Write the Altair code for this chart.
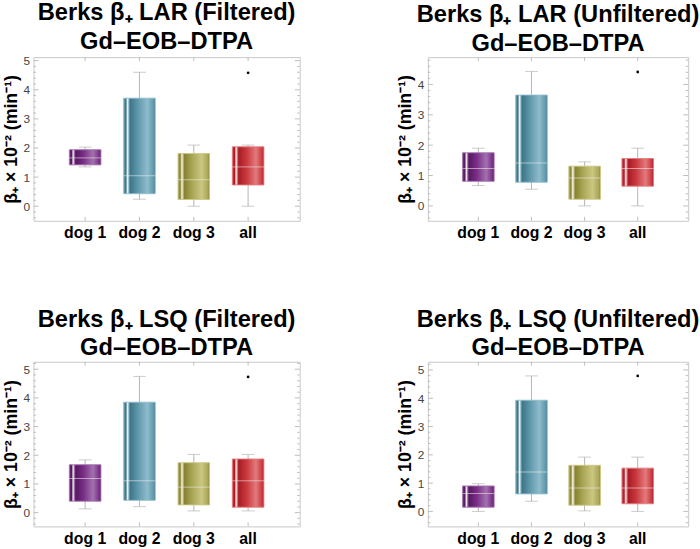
import altair as alt
import pandas as pd

cats = ["dog 1", "dog 2", "dog 3", "all"]

# Panel 1: LAR (Filtered)
p1_lo = [1.35, 0.24, 0.00, 0.00]
p1_q1 = [1.42, 0.43, 0.23, 0.73]
p1_med = [1.66, 1.05, 0.91, 1.35]
p1_q3 = [1.94, 3.71, 1.81, 2.04]
p1_hi = [2.03, 4.60, 2.10, 2.10]
p1_out = [4.58]

# Panel 2: LAR (Unfiltered)
p2_lo = [0.67, 0.55, 0.00, 0.00]
p2_q1 = [0.81, 0.78, 0.22, 0.65]
p2_med = [1.23, 1.41, 0.92, 1.23]
p2_q3 = [1.75, 3.65, 1.31, 1.56]
p2_hi = [1.90, 4.43, 1.45, 1.90]
p2_out = [4.41]

# Panel 3: LSQ (Filtered)
p3_lo = [0.13, 0.21, 0.06, 0.06]
p3_q1 = [0.40, 0.43, 0.27, 0.19]
p3_med = [1.19, 1.11, 0.89, 1.11]
p3_q3 = [1.67, 3.85, 1.74, 1.87]
p3_hi = [1.84, 4.75, 2.03, 2.03]
p3_out = [4.73]

# Panel 4: LSQ (Unfiltered)
p4_lo = [0.00, 0.36, 0.02, 0.00]
p4_q1 = [0.15, 0.62, 0.22, 0.27]
p4_med = [0.63, 1.39, 0.83, 0.83]
p4_q3 = [0.90, 3.93, 1.63, 1.53]
p4_hi = [0.98, 4.79, 1.92, 1.92]
p4_out = [4.79]

titles = [
    ["Berks β₊ LAR (Filtered)", "Gd–EOB–DTPA"],
    ["Berks β₊ LAR (Unfiltered)", "Gd–EOB–DTPA"],
    ["Berks β₊ LSQ (Filtered)", "Gd–EOB–DTPA"],
    ["Berks β₊ LSQ (Unfiltered)", "Gd–EOB–DTPA"],
]
y_title = "β₊ × 10⁻² (min⁻¹)"
ticks_a = [0, 1, 2, 3, 4, 5]
ticks_b = [0, 1, 2, 3, 4]

palette = [
    ("#55195f", "#7a2e87", "#a272ae"),
    ("#3b7587", "#5f98ab", "#8fbccb"),
    ("#858230", "#a9a655", "#cbc783"),
    ("#a91c25", "#c9383e", "#e27a7c"),
]


def grad(dark, mid, light):
    return alt.LinearGradient(
        gradient="linear", x1=0, x2=1, y1=0, y2=0,
        stops=[
            alt.GradientStop(offset=0.0, color=mid),
            alt.GradientStop(offset=0.07, color=dark),
            alt.GradientStop(offset=0.12, color="#f4eeee"),
            alt.GradientStop(offset=0.16, color=light),
            alt.GradientStop(offset=0.2, color=dark),
            alt.GradientStop(offset=0.45, color=mid),
            alt.GradientStop(offset=0.75, color=light),
            alt.GradientStop(offset=0.95, color=mid),
            alt.GradientStop(offset=1.0, color=dark),
        ],
    )


FONT = "Liberation Sans"
TICKC = "#bdbdbd"


def panel(title, lo, q1, med, q3, hi, out, ymin, ymax, ticks, W, H):
    df = pd.DataFrame({"cat": cats, "lo": lo, "q1": q1, "med": med, "q3": q3, "hi": hi})
    odf = pd.DataFrame({"cat": ["all"] * len(out), "v": out})
    minor = [k / 5 for k in range(int(ymin * 5) - 1, int(ymax * 5) + 2) if ymin <= k / 5 <= ymax and k % 5 != 0]
    tdf = pd.DataFrame({"t": ticks})
    mdf = pd.DataFrame({"t": minor})

    xscale = alt.Scale(domain=cats, paddingInner=0.4, paddingOuter=0.65)
    xaxis = alt.Axis(title=None, labelAngle=0, labelFontSize=16, labelFont=FONT,
                     labelFontWeight="bold", labelColor="black", ticks=False,
                     domain=False, labelPadding=4, grid=False)
    yscale = alt.Scale(domain=[ymin, ymax], nice=False, zero=False)
    yaxis = alt.Axis(values=ticks, title=y_title, titleFont=FONT, titleFontSize=18,
                     titleFontWeight="bold", titleColor="black", titlePadding=3,
                     grid=False, ticks=False, domain=False, labelFont=FONT,
                     labelFontSize=12, labelColor="#444444", labelPadding=4)

    def X():
        return alt.X("cat:N", sort=cats, scale=xscale, axis=xaxis)

    def Y(f):
        return alt.Y(f, scale=yscale, axis=yaxis)

    base = alt.Chart(df)
    layers = []
    layers.append(base.mark_rule(color="#b5b5b5", strokeWidth=1).encode(x=X(), y=Y("lo:Q"), y2="hi:Q"))
    layers.append(base.mark_tick(color="#b5b5b5", size=13, thickness=1).encode(x=X(), y=Y("lo:Q")))
    layers.append(base.mark_tick(color="#b5b5b5", size=13, thickness=1).encode(x=X(), y=Y("hi:Q")))
    for i, c in enumerate(cats):
        d, m, l = palette[i]
        layers.append(
            base.transform_filter(alt.datum.cat == c)
            .mark_bar(size=32, fill=grad(d, m, l), stroke=l, strokeWidth=1, strokeOpacity=0.9)
            .encode(x=X(), y=Y("q1:Q"), y2="q3:Q")
        )
    layers.append(base.mark_tick(size=32, thickness=1, color="#f4f0f0", opacity=0.55).encode(x=X(), y=Y("med:Q")))
    layers.append(alt.Chart(odf).mark_circle(size=8, color="black", opacity=1).encode(x=X(), y=Y("v:Q")))
    # frame ticks
    tk = alt.Chart(tdf).mark_rule(color=TICKC, strokeWidth=1)
    layers.append(tk.encode(y=Y("t:Q"), x=alt.value(0), x2=alt.value(5)))
    layers.append(tk.encode(y=Y("t:Q"), x=alt.value(W), x2=alt.value(W - 5)))
    mk = alt.Chart(mdf).mark_rule(color=TICKC, strokeWidth=1)
    layers.append(mk.encode(y=Y("t:Q"), x=alt.value(0), x2=alt.value(2.5)))
    layers.append(mk.encode(y=Y("t:Q"), x=alt.value(W), x2=alt.value(W - 2.5)))
    ck = base.mark_rule(color=TICKC, strokeWidth=1)
    layers.append(ck.encode(x=X(), y=alt.value(0), y2=alt.value(4)))
    layers.append(ck.encode(x=X(), y=alt.value(H), y2=alt.value(H - 4)))

    return alt.layer(*layers).properties(
        width=W, height=H,
        title=alt.TitleParams(text=title, font=FONT, fontSize=24, fontWeight="bold",
                              color="black", lineHeight=29, offset=1, anchor="middle"),
    )


c1 = panel(titles[0], p1_lo, p1_q1, p1_med, p1_q3, p1_hi, p1_out, -0.5, 5.12, ticks_a, 270, 166)
c2 = panel(titles[1], p2_lo, p2_q1, p2_med, p2_q3, p2_hi, p2_out, -0.49, 4.9, ticks_b, 264, 166)
c3 = panel(titles[2], p3_lo, p3_q1, p3_med, p3_q3, p3_hi, p3_out, -0.48, 5.26, ticks_a, 270, 167)
c4 = panel(titles[3], p4_lo, p4_q1, p4_med, p4_q3, p4_hi, p4_out, -0.53, 5.29, ticks_a, 264, 167)

row1 = alt.hconcat(c1, c2, spacing=96)
row2 = alt.hconcat(c3, c4, spacing=96)
chart = (
    alt.vconcat(row1, row2, spacing=67)
    .properties(padding={"left": 1, "top": -3, "right": 0, "bottom": 0}, background="white")
    .configure_view(stroke="#c8c8c8", strokeWidth=1)
)
chart.save("out.html", embed_options={"renderer": "svg", "actions": False})
